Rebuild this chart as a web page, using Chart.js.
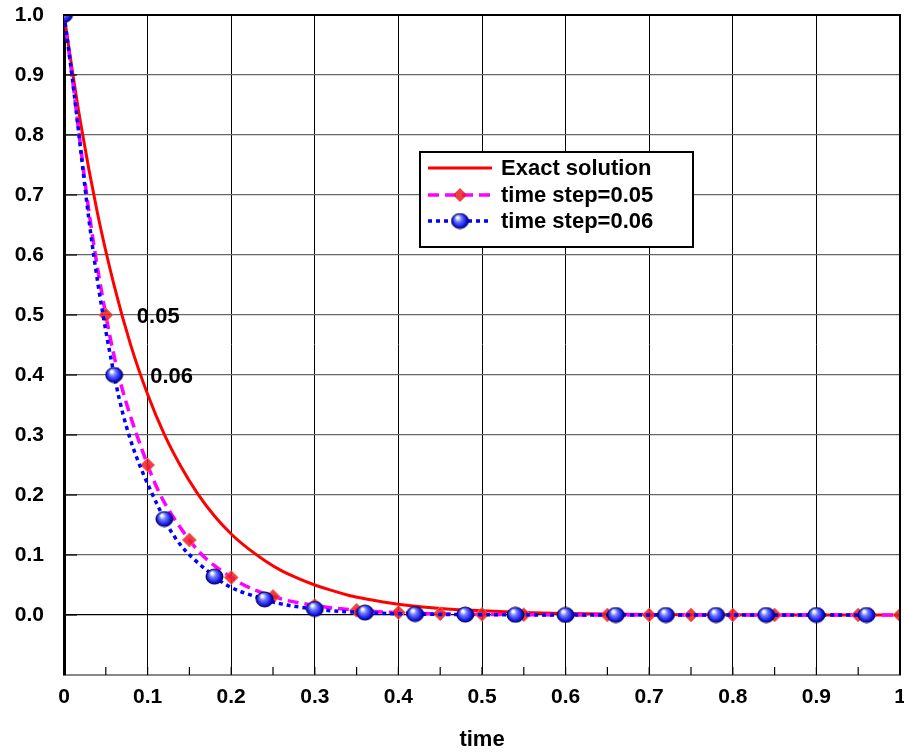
<!DOCTYPE html>
<html>
<head>
<meta charset="utf-8">
<script src="https://cdn.jsdelivr.net/npm/chart.js@4.4.1/dist/chart.umd.min.js"></script>
<style>
  html, body { margin: 0; padding: 0; background: #fff; }
  #wrap { width: 904px; height: 753px; }
</style>
</head>
<body>
<div id="wrap"><canvas id="chart" width="904" height="753"></canvas></div>
<script>
// exact solution
var exactT = [0, 0.02, 0.04, 0.06, 0.08, 0.1, 0.12, 0.14, 0.16, 0.18, 0.2, 0.22, 0.24, 0.26, 0.28, 0.3,
              0.32, 0.34, 0.36, 0.38, 0.4, 0.45, 0.5, 0.55, 0.6, 0.7, 0.8, 0.9, 1.0];
var exactY = [1, 0.819, 0.670, 0.549, 0.449, 0.368, 0.301, 0.247, 0.202, 0.165, 0.135, 0.111, 0.091, 0.074, 0.061, 0.050,
              0.041, 0.033, 0.027, 0.022, 0.018, 0.011, 0.007, 0.004, 0.0025, 0.001, 0.0003, 0.0001, 0];

// time step = 0.05
var step05T = [0, 0.05, 0.1, 0.15, 0.2, 0.25, 0.3, 0.35, 0.4, 0.45, 0.5, 0.55, 0.6, 0.65, 0.7, 0.75, 0.8, 0.85, 0.9, 0.95, 1.0];
var step05Y = [1, 0.5, 0.25, 0.125, 0.0625, 0.031, 0.016, 0.008, 0.004, 0.002, 0.001, 0.0005, 0, 0, 0, 0, 0, 0, 0, 0, 0];

// time step = 0.06
var step06T = [0, 0.06, 0.12, 0.18, 0.24, 0.3, 0.36, 0.42, 0.48, 0.54, 0.6, 0.66, 0.72, 0.78, 0.84, 0.9, 0.96];
var step06Y = [1, 0.4, 0.16, 0.064, 0.026, 0.010, 0.004, 0.0016, 0.0007, 0.0003, 0.0001, 0, 0, 0, 0, 0, 0];

var seriesNames = ['Exact solution', 'time step=0.05', 'time step=0.06'];
var xTickLabels = ['0', '0.1', '0.2', '0.3', '0.4', '0.5', '0.6', '0.7', '0.8', '0.9', '1'];
var yTickLabels = ['', '0.0', '0.1', '0.2', '0.3', '0.4', '0.5', '0.6', '0.7', '0.8', '0.9', '1.0'];
var notes = [{ text: '0.05', t: 0.05, y: 0.5, dx: 31 }, { text: '0.06', t: 0.06, y: 0.4, dx: 36 }];

function pairs(xs, ys) {
  return xs.map(function (x, i) { return { x: x, y: ys[i] }; });
}

// shiny blue ball used as the marker of the 0.06 series
function makeBall() {
  var c = document.createElement('canvas');
  c.width = 19; c.height = 17;
  var g = c.getContext('2d');
  var grad = g.createRadialGradient(7, 5, 1, 9.5, 8.5, 9);
  grad.addColorStop(0, '#ffffff');
  grad.addColorStop(0.3, '#6f7dff');
  grad.addColorStop(0.75, '#1010e0');
  grad.addColorStop(1, '#000080');
  g.beginPath();
  g.ellipse(9.5, 8.5, 8.5, 7.5, 0, 0, Math.PI * 2);
  g.fillStyle = grad;
  g.fill();
  g.lineWidth = 1;
  g.strokeStyle = '#000040';
  g.stroke();
  return c;
}
var ball = makeBall();

var font = 'Liberation Sans, Arial, sans-serif';

var extras = {
  id: 'extras',
  afterDatasetsDraw: function (chart) {
    var ctx = chart.ctx, a = chart.chartArea;
    var xs = chart.scales.x, ys = chart.scales.y;
    ctx.save();
    // top and right frame
    ctx.strokeStyle = '#000';
    ctx.lineWidth = 2;
    ctx.beginPath();
    ctx.moveTo(a.left, a.top); ctx.lineTo(a.right, a.top); ctx.lineTo(a.right, a.bottom);
    ctx.stroke();
    // minor ticks on the time axis
    ctx.lineWidth = 1.2;
    for (var i = 1; i < 20; i++) {
      var px = xs.getPixelForValue(i * 0.05);
      ctx.beginPath(); ctx.moveTo(px, a.bottom); ctx.lineTo(px, a.bottom - 8); ctx.stroke();
    }
    // y ticks inside
    for (var j = 0; j <= 10; j++) {
      var py = ys.getPixelForValue(j * 0.1);
      ctx.beginPath(); ctx.moveTo(a.left, py); ctx.lineTo(a.left + 13, py); ctx.stroke();
    }
    // labels next to the first step
    ctx.fillStyle = '#000';
    ctx.font = 'bold 22px ' + font;
    ctx.textBaseline = 'middle';
    notes.forEach(function (n) {
      ctx.fillText(n.text, xs.getPixelForValue(n.t) + n.dx, ys.getPixelForValue(n.y) + 2);
    });
    // legend box
    var bx = 420, by = 152, bw = 273, bh = 95;
    ctx.fillStyle = '#fff';
    ctx.fillRect(bx, by, bw, bh);
    ctx.lineWidth = 2;
    ctx.strokeStyle = '#000';
    ctx.strokeRect(bx, by, bw, bh);
    var rows = [168, 195, 221];
    chart.data.datasets.forEach(function (ds, k) {
      var y = rows[k];
      ctx.save();
      ctx.strokeStyle = ds.borderColor;
      ctx.lineWidth = ds.borderWidth;
      ctx.setLineDash(ds.borderDash || []);
      ctx.beginPath(); ctx.moveTo(428, y); ctx.lineTo(492, y); ctx.stroke();
      ctx.restore();
      if (k === 1) {
        ctx.save();
        ctx.translate(460, y); ctx.rotate(Math.PI / 4);
        ctx.fillStyle = ds.pointBackgroundColor;
        ctx.fillRect(-5, -5, 10, 10);
        ctx.restore();
      } else if (k === 2) {
        ctx.drawImage(ball, 460 - 9.5, y - 8.5);
      }
      ctx.fillStyle = '#000';
      ctx.font = 'bold 22px ' + font;
      ctx.fillText(seriesNames[k], 501, y + 1);
    });
    ctx.restore();
  }
};

new Chart(document.getElementById('chart'), {
  type: 'line',
  data: {
    datasets: [
      {
        label: seriesNames[0],
        data: pairs(exactT, exactY),
        borderColor: '#ff0000',
        borderWidth: 3,
        pointRadius: 0,
        tension: 0.4,
        order: 3
      },
      {
        label: seriesNames[1],
        data: pairs(step05T, step05Y),
        borderColor: '#ff00ff',
        borderWidth: 3.5,
        borderDash: [11, 6],
        pointStyle: 'rectRot',
        pointRadius: 7,
        pointBackgroundColor: 'rgba(235,30,30,0.85)',
        pointBorderColor: 'rgba(255,110,110,0.9)',
        pointBorderWidth: 1,
        tension: 0.4,
        order: 2
      },
      {
        label: seriesNames[2],
        data: pairs(step06T, step06Y),
        borderColor: '#0000ff',
        borderWidth: 3.5,
        borderDash: [4, 4],
        pointStyle: ball,
        pointRadius: 9,
        tension: 0.4,
        order: 1
      }
    ]
  },
  options: {
    responsive: false,
    animation: false,
    layout: { autoPadding: false, padding: { left: 0, right: 4, top: 15, bottom: 0 } },
    plugins: { legend: { display: false }, tooltip: { enabled: false } },
    scales: {
      x: {
        type: 'linear',
        min: 0, max: 1,
        afterFit: function (s) { s.height = 78; s.paddingLeft = 0; s.paddingRight = 0; },
        ticks: {
          stepSize: 0.1,
          padding: 10,
          color: '#000',
          font: { family: font, size: 21, weight: 'bold' },
          callback: function (v) { return xTickLabels[Math.round(v * 10)]; }
        },
        grid: { color: '#000', lineWidth: 1, drawTicks: false },
        border: { color: '#888', width: 2 },
        title: {
          display: true,
          text: 'time',
          color: '#000',
          padding: { top: 4, bottom: 0 },
          font: { family: font, size: 22, weight: 'bold' }
        }
      },
      y: {
        type: 'linear',
        min: -0.1, max: 1.0,
        afterFit: function (s) { s.width = 64; s.paddingTop = 0; s.paddingBottom = 0; },
        ticks: {
          stepSize: 0.1,
          padding: 20,
          color: '#000',
          font: { family: font, size: 21, weight: 'bold' },
          callback: function (v) { return yTickLabels[Math.round(v * 10) + 1]; }
        },
        grid: {
          drawTicks: false,
          lineWidth: 1.2,
          color: function (c) { return Math.abs(c.tick.value) < 1e-6 ? '#000' : '#666'; }
        },
        border: { color: '#000', width: 3 }
      }
    }
  },
  plugins: [extras]
});
</script>
</body>
</html>
